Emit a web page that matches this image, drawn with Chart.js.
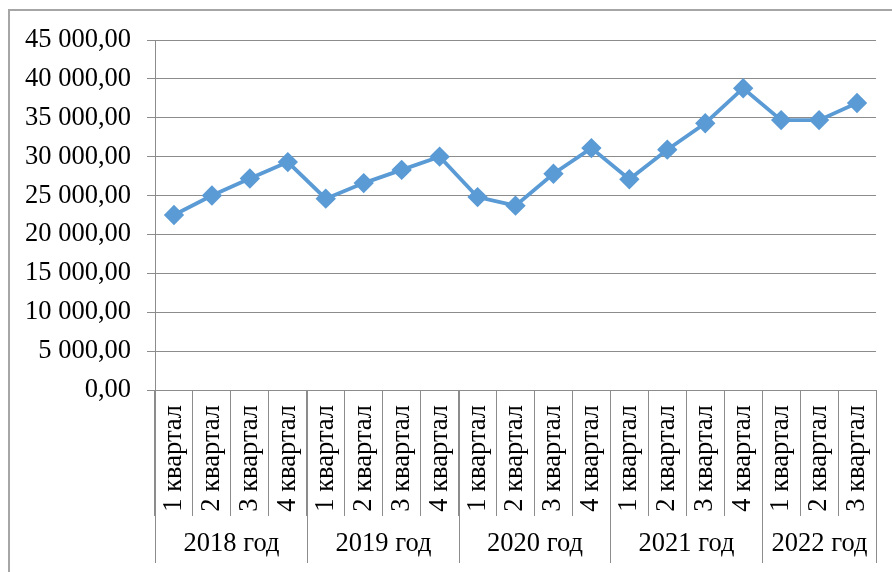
<!DOCTYPE html>
<html>
<head>
<meta charset="utf-8">
<script src="https://cdn.jsdelivr.net/npm/chart.js@4/dist/chart.umd.min.js"></script>
<style>
  html, body { margin: 0; padding: 0; background: #fff; }
  #wrap { position: relative; width: 892px; height: 572px; }
</style>
</head>
<body>
<div id="wrap"><canvas id="c" width="892" height="572"></canvas></div>
<script>
const quarterLabels = [
  '1 квартал','2 квартал','3 квартал','4 квартал',
  '1 квартал','2 квартал','3 квартал','4 квартал',
  '1 квартал','2 квартал','3 квартал','4 квартал',
  '1 квартал','2 квартал','3 квартал','4 квартал',
  '1 квартал','2 квартал','3 квартал'
];
const yearLabels = ['2018 год','2019 год','2020 год','2021 год','2022 год'];
const quartersPerYear = [4, 4, 4, 4, 3];
const values = [
  22500, 25000, 27200, 29300,
  24600, 26600, 28300, 30000,
  24800, 23700, 27800, 31100,
  27100, 30900, 34300, 38800,
  34700, 34700, 36900
];
const yTickMin = 0, yTickMax = 45000, yTickStep = 5000;

const FONT = "'Liberation Serif', 'Times New Roman', serif";
const FSIZE = 26.5;
const GRID = '#8c8c8c';
const LINE = '#5b9bd5';

function fmt(v) {
  const s = Math.round(v).toString().replace(/\B(?=(\d{3})+(?!\d))/g, ' ');
  return s + ',00';
}

const framePlugin = {
  id: 'frame',
  beforeDraw(chart) {
    const ctx = chart.ctx;
    ctx.save();
    ctx.strokeStyle = '#a6a6a6';
    ctx.lineWidth = 2;
    ctx.beginPath();
    ctx.moveTo(9, 572);
    ctx.lineTo(9, 10);
    ctx.lineTo(892, 10);
    ctx.stroke();
    ctx.restore();
  }
};

const yearPlugin = {
  id: 'years',
  afterDraw(chart) {
    const xs = chart.scales.x;
    const ctx = chart.ctx;
    const step = xs.getPixelForValue(1) - xs.getPixelForValue(0);
    const top = chart.chartArea.bottom;
    const bottom = 563;
    ctx.save();
    ctx.strokeStyle = GRID;
    ctx.lineWidth = 1;
    ctx.fillStyle = '#000';
    ctx.font = FSIZE + 'px ' + FONT;
    ctx.textAlign = 'center';
    ctx.textBaseline = 'middle';
    let start = 0;
    const bx = i => Math.round(xs.getPixelForValue(i) - step / 2) + 0.5;
    ctx.beginPath();
    ctx.moveTo(bx(0), top); ctx.lineTo(bx(0), bottom);
    quartersPerYear.forEach((n, k) => {
      const end = start + n;
      ctx.moveTo(bx(end), top); ctx.lineTo(bx(end), bottom);
      const cx = (bx(start) + bx(end)) / 2;
      ctx.fillText(yearLabels[k], cx, 544);
      start = end;
    });
    ctx.stroke();
    ctx.restore();
  }
};

new Chart(document.getElementById('c'), {
  type: 'line',
  data: {
    labels: quarterLabels,
    datasets: [{
      data: values,
      borderColor: LINE,
      backgroundColor: LINE,
      borderWidth: 3.8,
      pointStyle: 'rectRot',
      pointRadius: 7.5,
      pointHoverRadius: 7.5,
      pointBackgroundColor: LINE,
      pointBorderColor: LINE,
      tension: 0,
      fill: false
    }]
  },
  options: {
    responsive: false,
    animation: false,
    devicePixelRatio: 1,
    layout: { padding: { left: 0, top: 40, right: 16, bottom: 0 } },
    plugins: { legend: { display: false }, tooltip: { enabled: false } },
    scales: {
      x: {
        type: 'category',
        offset: true,
        grid: {
          offset: true,
          drawOnChartArea: false,
          drawTicks: true,
          tickLength: 126,
          color: GRID,
          lineWidth: 1
        },
        border: { display: true, color: GRID, width: 1 },
        ticks: {
          autoSkip: false,
          minRotation: 90,
          maxRotation: 90,
          padding: -111,
          color: '#000',
          font: { family: FONT, size: FSIZE }
        },
        afterFit(scale) { scale.height = 182; }
      },
      y: {
        min: yTickMin,
        max: yTickMax,
        grid: { color: GRID, lineWidth: 1, tickLength: 8, drawTicks: true },
        border: { display: true, color: GRID, width: 1 },
        ticks: {
          stepSize: yTickStep,
          padding: 16,
          color: '#000',
          font: { family: FONT, size: FSIZE },
          callback: v => fmt(v)
        },
        afterFit(scale) { scale.width = 155; }
      }
    }
  },
  plugins: [framePlugin, yearPlugin]
});
</script>
</body>
</html>
